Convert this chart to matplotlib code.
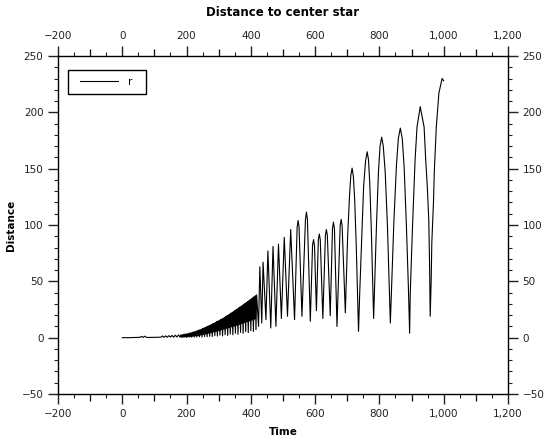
import matplotlib
matplotlib.use("Agg")
import matplotlib.pyplot as plt
from matplotlib.legend_handler import HandlerLine2D
from matplotlib.ticker import FuncFormatter, MultipleLocator
import numpy as np

# quiet start (t 0..180)
early_t = [0, 20, 40, 55, 60, 65, 70, 75, 80, 100, 120, 125, 130, 135, 140, 145,
           150, 155, 160, 165, 170, 175, 180]
early_r = [0.0, 0.0, 0.2, 0.3, 1.2, 0.2, 1.3, 0.3, 0.2, 0.3, 0.4, 1.5, 0.3, 1.6, 0.4, 1.8,
           0.5, 2.0, 0.4, 2.2, 0.6, 2.5, 0.5]

# dense jitter band, sampled every 2 time units from 182 to 418
band_t = np.arange(182, 420, 2)
band_r = [2.4, 0.3, 2.6, 0.5, 2.9, 0.4, 3.1, 0.6, 3.3, 0.3,
          3.5, 0.8, 3.8, 0.5, 4.1, 1.0, 4.4, 0.4, 4.8, 1.2,
          5.1, 0.6, 5.5, 1.5, 5.9, 0.5, 6.3, 1.9, 6.8, 0.8,
          7.2, 2.3, 7.6, 0.6, 8.1, 2.8, 8.6, 1.0, 9.0, 3.3,
          9.6, 0.8, 10.1, 3.9, 10.6, 1.2, 11.2, 4.4, 11.8, 1.0,
          12.4, 5.0, 13.0, 1.8, 13.6, 5.6, 14.2, 1.4, 14.8, 6.3,
          15.4, 2.2, 16.0, 7.0, 16.6, 1.6, 17.3, 7.6, 18.0, 2.6,
          18.8, 8.3, 19.5, 2.0, 20.2, 9.0, 21.0, 3.2, 21.7, 9.6,
          22.5, 2.6, 23.2, 10.3, 24.0, 4.0, 24.8, 11.0, 25.6, 3.0,
          26.4, 11.8, 27.2, 4.6, 28.0, 12.5, 28.8, 3.8, 29.6, 13.2,
          30.4, 5.4, 31.2, 14.0, 32.0, 4.5, 32.8, 14.8, 33.7, 6.2,
          34.5, 15.6, 35.4, 5.5, 36.3, 16.5, 37.2, 7.0, 38.0]

# big swings (t 424..1000)
orbit_t = [424, 428, 434, 438, 447, 453, 462, 469, 478, 486, 495, 504, 514, 524, 536,
           544, 547, 550, 559, 570, 573, 576, 585, 592, 595, 598, 604, 610, 613, 616, 624,
           632, 635, 638, 647, 654, 657, 660, 668, 678, 681, 684, 694,
           697, 701, 707, 711, 715, 719, 723, 728, 732, 735,
           739, 745, 751, 757, 762, 766, 770, 775, 779, 782,
           786, 791, 797, 802, 807, 812, 818, 825, 830, 834,
           839, 845, 853, 859, 865, 871, 877, 884, 890, 894,
           896, 903, 911, 917, 927, 939, 944, 949, 953.5, 956, 958,
           961, 963, 968, 971, 977, 985, 995, 1000]
orbit_r = [10, 63, 13, 67, 16, 77, 8.6, 81, 10, 83, 17, 89, 19, 96, 16,
           98, 104, 98, 19, 105, 111.5, 105, 14.5, 82, 87, 82, 24, 87, 92, 87, 17,
           91, 96, 91, 19.5, 97, 102.5, 97, 10, 100, 105, 99, 22,
           52, 89, 126, 144, 150.5, 143, 123, 81, 39, 5.6,
           42, 88, 135, 157, 165, 158, 137, 94, 51, 17,
           54, 101, 147, 170, 178, 170, 147, 99, 51, 13,
           53, 103, 153, 177, 186, 177, 151, 99, 46, 4,
           40, 99, 158, 187, 205, 187, 158, 134, 105, 66, 19,
           50, 84, 119, 149, 187, 217, 230, 228]

time = np.concatenate([early_t, band_t, orbit_t]).astype(float)
dist = np.array(early_r + band_r + orbit_r, dtype=float)


def _fmt(v, _pos):
    return f"{v:,.0f}".replace("-", "\u2212")


fig = plt.figure(figsize=(5.49, 4.43), dpi=100)
ax = fig.add_axes([0.1056, 0.1106, 0.8197, 0.763])
(line,) = ax.plot(time, dist, color="black", linewidth=0.8, label="r")

ax.set_xlim(-200, 1200)
ax.set_ylim(-50, 250)
ax.xaxis.set_major_locator(MultipleLocator(200))
ax.xaxis.set_minor_locator(MultipleLocator(50))
ax.yaxis.set_major_locator(MultipleLocator(50))
ax.yaxis.set_minor_locator(MultipleLocator(10))
ax.xaxis.set_major_formatter(FuncFormatter(_fmt))
ax.yaxis.set_major_formatter(FuncFormatter(_fmt))
ax.tick_params(which="both", direction="out", top=True, right=True,
               labeltop=True, labelright=True, labelsize=7.5, colors="#222222")
ax.tick_params(which="major", length=7, width=1)
ax.tick_params(which="minor", length=3, width=0.8)

# the odd-hundred ticks are a bit longer than the 50 ones
for side in ("bottom", "top"):
    sec = ax.secondary_xaxis(side)
    sec.set_xticks([-100, 100, 300, 500, 700, 900, 1100])
    sec.set_xticklabels([])
    sec.tick_params(length=5, width=0.9, direction="out")
    sec.spines[side].set_visible(False)

for s in ax.spines.values():
    s.set_linewidth(1)

fig.text(0.5155, 0.972, "Distance to center star", ha="center", va="center",
         fontsize=8.5, fontweight="bold")
ax.set_xlabel("Time", fontsize=7.5, fontweight="bold", labelpad=6)
ax.set_ylabel("Distance", fontsize=7.5, fontweight="bold", labelpad=4)

leg = ax.legend(loc="upper left", bbox_to_anchor=(0.022, 0.885, 0.1733, 0.074),
                mode="expand", fontsize=7.5, handlelength=4.1, fancybox=False,
                framealpha=1, borderpad=0.7, handletextpad=1.0, borderaxespad=0,
                handler_map={line: HandlerLine2D(xpad=0.5)})
leg.get_frame().set_edgecolor("black")
leg.get_frame().set_linewidth(1)

fig.savefig("out.png", dpi=100, facecolor="white")
